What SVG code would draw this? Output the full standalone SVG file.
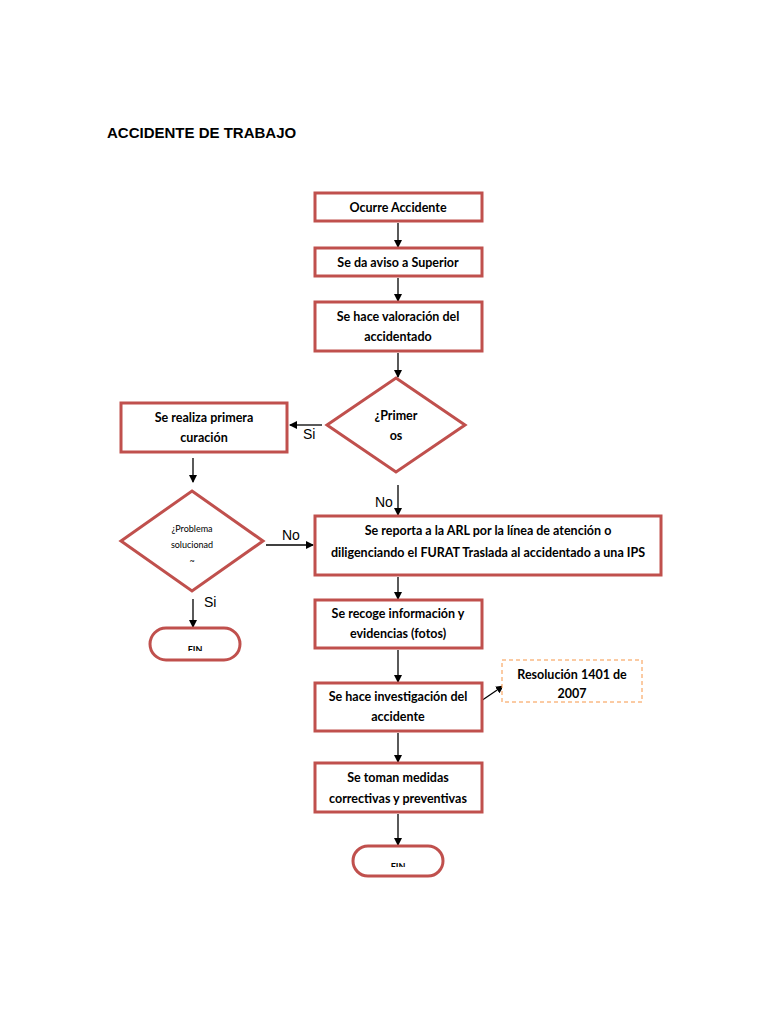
<svg xmlns="http://www.w3.org/2000/svg" width="768" height="1024" viewBox="0 0 768 1024">
<defs>
<marker id="ah" markerWidth="8" markerHeight="8" refX="7" refY="4" orient="auto" markerUnits="userSpaceOnUse">
<path d="M0,0 L8,4 L0,8 Z" fill="#000"/>
</marker>
<clipPath id="c1"><rect x="150" y="628" width="90" height="23"/></clipPath>
<clipPath id="c2"><rect x="353" y="846" width="90" height="21"/></clipPath>
</defs>
<style>
.b{fill:#fff;stroke:#c0504d;stroke-width:3}
.t{font-family:Lato,"Open Sans",sans-serif;font-weight:bold;font-size:12.5px;fill:#000;text-anchor:middle}
.s{font-family:Lato,"Open Sans",sans-serif;font-size:9px;fill:#000;text-anchor:middle}
.l{font-family:"Liberation Sans",Arial,sans-serif;font-size:14px;fill:#000}
.c{stroke:#000;stroke-width:1.3;fill:none;marker-end:url(#ah)}
</style>
<rect width="768" height="1024" fill="#fff"/>
<text x="107" y="138" font-family="Liberation Sans,Arial,sans-serif" font-weight="bold" font-size="15" fill="#000">ACCIDENTE DE TRABAJO</text>

<g id="connectors">
<line class="c" x1="398" y1="223" x2="398" y2="247"/>
<line class="c" x1="398" y1="278" x2="398" y2="301"/>
<line class="c" x1="398" y1="353" x2="398" y2="377"/>
<line class="c" x1="322" y1="425" x2="290" y2="425"/>
<line class="c" x1="193" y1="458" x2="193" y2="482"/>
<line class="c" x1="266" y1="545" x2="313" y2="545"/>
<line class="c" x1="398" y1="485" x2="398" y2="515"/>
<line class="c" x1="398" y1="577" x2="398" y2="599"/>
<line class="c" x1="398" y1="650" x2="398" y2="682"/>
<line class="c" x1="481" y1="701" x2="503" y2="686"/>
<line class="c" x1="398" y1="733" x2="398" y2="762"/>
<line class="c" x1="398" y1="814" x2="398" y2="845"/>
<line class="c" x1="193" y1="599" x2="193" y2="627"/>
<text class="l" x="303" y="439">Si</text>
<text class="l" x="282" y="540">No</text>
<text class="l" x="375" y="507">No</text>
<text class="l" x="204" y="607">Si</text>
</g>

<g id="n1"><rect class="b" x="315" y="193" width="167" height="28"/><text class="t" x="398" y="212">Ocurre Accidente</text></g>
<g id="n2"><rect class="b" x="315" y="248" width="167" height="28"/><text class="t" x="398" y="267">Se da aviso a Superior</text></g>
<g id="n3"><rect class="b" x="315" y="302" width="167" height="49"/><text class="t" x="398" y="321">Se hace valoración del</text><text class="t" x="398" y="341">accidentado</text></g>
<g id="d1"><polygon class="b" points="396,378 465,425 396,472 327,425"/><text class="t" x="396" y="420">¿Primer</text><text class="t" x="396" y="440">os</text></g>
<g id="n4"><rect class="b" x="121" y="403" width="166" height="49"/><text class="t" x="204" y="422">Se realiza primera</text><text class="t" x="204" y="442">curación</text></g>
<g id="d2"><polygon class="b" points="192,491 263,541 192,591 121,541"/><text class="s" x="192" y="532">¿Problema</text><text class="s" x="192" y="548">solucionad</text><text class="s" x="192" y="564">~</text></g>
<g id="f1"><rect class="b" x="150" y="628" width="90" height="32" rx="16"/><text class="s" x="195" y="653" font-weight="bold" clip-path="url(#c1)">FIN</text></g>
<g id="n5"><rect class="b" x="315" y="516" width="346" height="59"/><text class="t" x="488" y="535">Se reporta a la ARL por la línea de atención o</text><text class="t" x="488" y="557">diligenciando el FURAT Traslada al accidentado a una IPS</text></g>
<g id="n6"><rect class="b" x="315" y="600" width="167" height="48"/><text class="t" x="398" y="618">Se recoge información y</text><text class="t" x="398" y="638">evidencias (fotos)</text></g>
<g id="n7"><rect class="b" x="315" y="683" width="167" height="48"/><text class="t" x="398" y="701">Se hace investigación del</text><text class="t" x="398" y="721">accidente</text></g>
<g id="note"><rect x="502" y="660" width="140" height="42" fill="#fff" stroke="#f79646" stroke-width="1" stroke-dasharray="4,3"/><text class="t" x="572" y="679">Resolución 1401 de</text><text class="t" x="572" y="698">2007</text></g>
<g id="n8"><rect class="b" x="315" y="763" width="167" height="49"/><text class="t" x="398" y="782">Se toman medidas</text><text class="t" x="398" y="803">correctivas y preventivas</text></g>
<g id="f2"><rect class="b" x="353" y="846" width="90" height="30" rx="15"/><text class="s" x="398" y="870" font-weight="bold" clip-path="url(#c2)">FIN</text></g>
</svg>
